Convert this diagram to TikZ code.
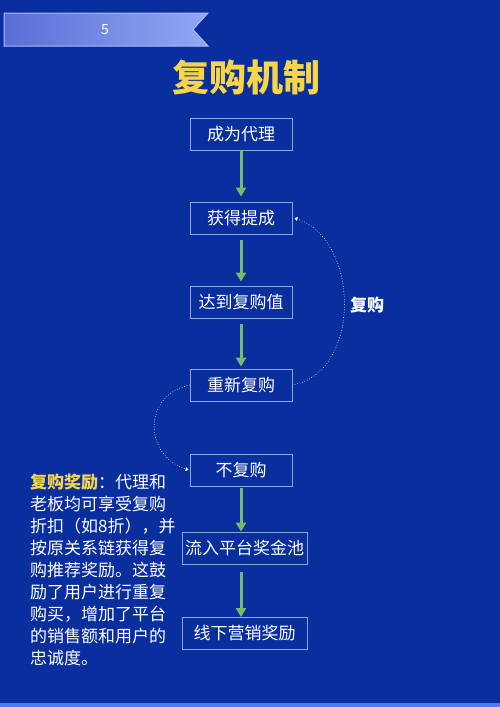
\documentclass[tikz,border=0pt]{standalone}
\usepackage{fontspec}
\setmainfont{Noto Sans CJK SC}
\usetikzlibrary{arrows.meta}
\definecolor{pagebg}{RGB}{9,46,158}
\definecolor{boxline}{RGB}{142,163,232}
\definecolor{flowgreen}{RGB}{118,188,104}
\definecolor{titleyellow}{RGB}{247,213,72}
\definecolor{barblue}{RGB}{76,125,242}

\begin{document}
\begin{tikzpicture}[x=1pt,y=-1pt,
    stepbox/.style={draw=boxline, line width=0.9pt, minimum width=102pt, minimum height=32pt,
      inner sep=0pt, text=white, font=\fontsize{17}{17}\selectfont},
    widebox/.style={stepbox, minimum width=125pt},
    flow/.style={draw=flowgreen, line width=3pt, -{Triangle[length=9pt,width=10pt]}},
    loopline/.style={draw=white!80!boxline, line width=0.9pt, line cap=round, dash pattern=on 0pt off 2.6pt,
      -{Triangle[length=3pt,width=4pt]}}]
    \fill[pagebg] (0,0) rectangle (500,707);
    \fill[barblue] (0,703) rectangle (500,707);
    \shade[left color={rgb,255:red,90;green,110;blue,214}, right color={rgb,255:red,146;green,168;blue,244},
      draw={rgb,255:red,170;green,188;blue,245}, line width=1pt]
      (4,13) -- (208,13) -- (193,29.5) -- (208,46) -- (4,46) -- cycle;
    \node[text=white, font=\fontsize{14}{14}\selectfont] (page) at (105,29.5) {5};
    \node[text=titleyellow, font=\fontsize{37}{37}\bfseries\selectfont] (title) at (246,77) {复购机制};
    \node[stepbox] (b1) at (241,134) {成为代理};
    \node[stepbox] (b2) at (241,218) {获得提成};
    \node[stepbox] (b3) at (241,302) {达到复购值};
    \node[stepbox] (b4) at (241,385) {重新复购};
    \node[stepbox] (b5) at (241,470) {不复购};
    \node[widebox] (b6) at (244.5,548) {流入平台奖金池};
    \node[widebox] (b7) at (244.5,633.5) {线下营销奖励};
    \draw[flow] (b1.south) -- ([yshift=5pt]b2.north);
    \draw[flow] ([yshift=-6pt]b2.south) -- ([yshift=4pt]b3.north);
    \draw[flow] ([yshift=-6pt]b3.south) -- ([yshift=2pt]b4.north);
    \draw[flow] ([yshift=-2pt]b5.south) -- (b5.south |- b6.north);
    \draw[flow] ([yshift=-8pt]b5.south |- b6.south) -- (b5.south |- b7.north);
    \draw[loopline] (b4.east) .. controls (362,372) and (360,240) .. ([xshift=2pt]b2.east);
    \draw[loopline] (b4.west) .. controls (143,395) and (143,455) .. ([xshift=-1pt]b5.west);
    \node[text=white, font=\fontsize{17}{17}\bfseries\selectfont] (again) at (367,305) {复购};
    \node[anchor=north west, inner sep=0pt, align=left, text=white,
      font=\fontsize{17}{22}\selectfont] (note) at (30,474)
      {\textcolor{titleyellow}{\bfseries 复购奖励}：代理和\\
       老板均可享受复购\\
       折扣（如8折），并\\
       按原关系链获得复\\
       购推荐奖励。这鼓\\
       励了用户进行重复\\
       购买，增加了平台\\
       的销售额和用户的\\
       忠诚度。};
\end{tikzpicture}
\end{document}
